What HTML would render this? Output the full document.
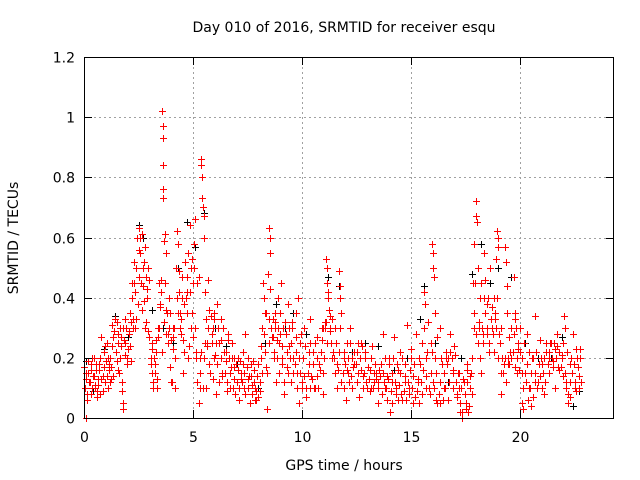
<!DOCTYPE html>
<html><head><meta charset="utf-8"><style>
html,body{margin:0;padding:0;background:#fff;}
svg{display:block;font-family:"DejaVu Sans","Liberation Sans",sans-serif;}
</style></head><body>
<svg id="chart" width="640" height="480">
<text x="344" y="32" text-anchor="middle" font-size="14">Day 010 of 2016, SRMTID for receiver esqu</text>
<text x="344" y="470" text-anchor="middle" font-size="14">GPS time / hours</text>
<text transform="translate(18,238) rotate(-90)" text-anchor="middle" font-size="14">SRMTID / TECUs</text>
<g id="grid"></g><g id="black"></g><g id="red"></g><g id="axes"></g>
</svg>
<script>
const xTicks=[0,5,10,15,20];
const yTicks=[0,0.2,0.4,0.6,0.8,1,1.2];
const yTickLabels=["0","0.2","0.4","0.6","0.8","1","1.2"];
const redPts=[[0.02,0.17],[0.05,0.1],[0.08,0.0],[0.1,0.13],[0.15,0.08],[0.2,0.15],[0.25,0.12],[0.3,0.18],[0.35,0.1],[0.4,0.14],[0.45,0.2],[0.5,0.11],[0.55,0.16],[0.6,0.09],[0.65,0.13],[0.7,0.18],[0.75,0.08],[0.8,0.27],[0.85,0.14],[0.9,0.22],[0.95,0.12],[1.0,0.19],[1.05,0.25],[1.1,0.1],[1.15,0.16],[1.2,0.2],[1.25,0.13],[1.3,0.31],[1.35,0.27],[1.4,0.33],[1.45,0.22],[1.5,0.19],[1.55,0.28],[1.6,0.15],[1.65,0.3],[1.7,0.24],[1.75,0.09],[1.78,0.05],[1.8,0.03],[1.85,0.26],[1.9,0.33],[1.95,0.2],[2.0,0.23],[2.05,0.29],[2.1,0.35],[2.15,0.19],[2.2,0.45],[2.25,0.3],[2.3,0.52],[2.35,0.42],[2.4,0.33],[2.45,0.6],[2.5,0.63],[2.55,0.55],[2.6,0.45],[2.65,0.61],[2.7,0.5],[2.75,0.39],[2.8,0.3],[2.85,0.47],[2.9,0.43],[2.95,0.5],[3.0,0.27],[3.05,0.18],[3.1,0.23],[3.15,0.1],[3.2,0.2],[3.25,0.15],[3.3,0.26],[3.35,0.13],[3.4,0.3],[3.45,0.45],[3.5,0.37],[3.55,0.46],[3.58,1.02],[3.6,0.97],[3.62,0.93],[3.64,0.84],[3.6,0.76],[3.63,0.73],[3.65,0.59],[3.7,0.61],[3.75,0.55],[3.8,0.35],[3.85,0.28],[3.9,0.4],[3.95,0.17],[4.0,0.26],[4.05,0.12],[4.1,0.3],[4.15,0.2],[4.2,0.5],[4.25,0.62],[4.3,0.58],[4.35,0.42],[4.4,0.35],[4.45,0.28],[4.5,0.47],[4.55,0.15],[4.6,0.38],[4.65,0.52],[4.7,0.42],[4.75,0.55],[4.8,0.24],[4.85,0.64],[4.9,0.3],[4.95,0.53],[5.0,0.45],[5.05,0.58],[5.1,0.66],[5.15,0.2],[5.2,0.12],[5.25,0.05],[5.3,0.2],[5.35,0.86],[5.38,0.84],[5.4,0.8],[5.42,0.73],[5.45,0.7],[5.48,0.67],[5.5,0.6],[5.55,0.42],[5.6,0.1],[5.65,0.25],[5.7,0.46],[5.75,0.18],[5.8,0.34],[5.85,0.28],[5.9,0.13],[5.95,0.35],[6.0,0.21],[6.05,0.08],[6.1,0.38],[6.15,0.3],[6.2,0.25],[6.3,0.33],[6.35,0.14],[6.4,0.22],[6.5,0.19],[6.55,0.09],[6.6,0.28],[6.7,0.15],[6.8,0.2],[6.85,0.1],[6.9,0.17],[7.0,0.12],[7.05,0.2],[7.1,0.06],[7.2,0.15],[7.3,0.22],[7.35,0.1],[7.4,0.28],[7.5,0.13],[7.6,0.05],[7.65,0.18],[7.7,0.11],[7.8,0.16],[7.85,0.06],[7.9,0.09],[8.0,0.07],[8.05,0.12],[8.1,0.2],[8.15,0.3],[8.2,0.45],[8.25,0.4],[8.3,0.35],[8.35,0.17],[8.4,0.03],[8.45,0.48],[8.5,0.63],[8.52,0.6],[8.55,0.55],[8.6,0.27],[8.65,0.33],[8.7,0.22],[8.75,0.3],[8.8,0.12],[8.85,0.26],[8.9,0.4],[8.95,0.15],[9.0,0.28],[9.05,0.45],[9.1,0.2],[9.15,0.08],[9.2,0.32],[9.3,0.17],[9.35,0.38],[9.4,0.24],[9.5,0.12],[9.55,0.3],[9.6,0.2],[9.7,0.35],[9.75,0.15],[9.8,0.4],[9.85,0.05],[9.9,0.25],[10.0,0.12],[10.05,0.2],[10.1,0.3],[10.2,0.07],[10.3,0.18],[10.35,0.33],[10.4,0.14],[10.5,0.22],[10.6,0.1],[10.7,0.27],[10.8,0.16],[10.9,0.3],[10.95,0.08],[11.0,0.2],[11.05,0.32],[11.1,0.53],[11.12,0.5],[11.15,0.45],[11.2,0.42],[11.25,0.36],[11.3,0.29],[11.35,0.33],[11.4,0.22],[11.5,0.3],[11.6,0.18],[11.7,0.49],[11.72,0.44],[11.75,0.4],[11.8,0.12],[11.9,0.2],[12.0,0.06],[12.05,0.25],[12.1,0.15],[12.2,0.3],[12.3,0.1],[12.4,0.18],[12.5,0.22],[12.6,0.07],[12.7,0.25],[12.8,0.14],[12.9,0.2],[13.0,0.17],[13.1,0.09],[13.2,0.24],[13.3,0.12],[13.4,0.15],[13.5,0.05],[13.6,0.18],[13.7,0.28],[13.8,0.1],[13.9,0.14],[14.0,0.2],[14.05,0.02],[14.1,0.12],[14.2,0.27],[14.3,0.08],[14.4,0.16],[14.5,0.22],[14.6,0.06],[14.7,0.14],[14.8,0.31],[14.9,0.1],[15.0,0.23],[15.1,0.05],[15.2,0.28],[15.3,0.12],[15.4,0.18],[15.5,0.08],[15.6,0.42],[15.65,0.38],[15.7,0.2],[15.8,0.1],[15.9,0.25],[15.95,0.58],[15.98,0.55],[16.0,0.5],[16.05,0.47],[16.1,0.35],[16.15,0.15],[16.2,0.05],[16.3,0.3],[16.4,0.18],[16.5,0.1],[16.6,0.22],[16.7,0.06],[16.8,0.28],[16.9,0.15],[17.0,0.21],[17.1,0.08],[17.2,0.15],[17.25,0.02],[17.3,0.1],[17.35,0.0],[17.4,0.12],[17.5,0.05],[17.55,0.18],[17.6,0.02],[17.7,0.14],[17.8,0.2],[17.85,0.45],[17.9,0.58],[17.95,0.72],[17.97,0.67],[18.0,0.65],[18.05,0.5],[18.1,0.32],[18.15,0.4],[18.2,0.15],[18.3,0.28],[18.35,0.55],[18.4,0.46],[18.5,0.38],[18.55,0.22],[18.6,0.5],[18.7,0.3],[18.8,0.4],[18.85,0.33],[18.9,0.53],[18.95,0.62],[18.98,0.6],[19.0,0.57],[19.05,0.28],[19.1,0.08],[19.2,0.15],[19.3,0.57],[19.35,0.52],[19.4,0.44],[19.45,0.18],[19.5,0.27],[19.6,0.2],[19.7,0.47],[19.75,0.35],[19.8,0.3],[19.85,0.15],[19.9,0.25],[20.0,0.22],[20.1,0.05],[20.15,0.03],[20.2,0.15],[20.3,0.28],[20.4,0.1],[20.5,0.04],[20.6,0.2],[20.7,0.34],[20.8,0.12],[20.9,0.26],[21.0,0.18],[21.1,0.08],[21.2,0.22],[21.3,0.15],[21.4,0.25],[21.5,0.19],[21.6,0.1],[21.7,0.28],[21.8,0.16],[21.9,0.21],[22.0,0.34],[22.05,0.3],[22.1,0.12],[22.2,0.05],[22.3,0.18],[22.4,0.28],[22.5,0.1],[22.6,0.2],[22.7,0.14],[22.75,0.23]];
// dense band: each row = [time, value, value, ...]
const redBand=[[0.1,0.1,0.15,0.06,0.19],[0.3,0.12,0.08,0.16,0.2],[0.5,0.14,0.1,0.18,0.07],[0.7,0.11,0.16,0.2,0.13],[0.9,0.09,0.17,0.24,0.12],[1.1,0.14,0.2,0.18,0.12],[1.3,0.17,0.24,0.14,0.29],[1.5,0.22,0.32,0.16,0.25],[1.7,0.2,0.27,0.12,0.3],[1.9,0.21,0.25,0.3,0.18],[2.1,0.28,0.24,0.32,0.4],[2.3,0.33,0.45,0.3,0.5],[2.5,0.38,0.47,0.56,0.6],[2.7,0.36,0.44,0.52,0.57],[2.9,0.32,0.4,0.29,0.46],[3.1,0.2,0.15,0.25,0.12],[3.3,0.18,0.22,0.1,0.27],[3.5,0.3,0.38,0.42,0.22],[3.7,0.32,0.45,0.36,0.28],[3.9,0.25,0.3,0.35,0.12],[4.1,0.23,0.27,0.3,0.1],[4.3,0.4,0.35,0.49,0.3],[4.5,0.33,0.4,0.26,0.22],[4.7,0.4,0.47,0.35,0.2],[4.9,0.42,0.5,0.35,0.27],[5.1,0.5,0.3,0.22,0.45],[5.3,0.47,0.1,0.15,0.22],[5.5,0.1,0.2,0.25,0.33],[5.7,0.24,0.3,0.36,0.15],[5.9,0.25,0.3,0.2,0.33],[6.1,0.25,0.18,0.3,0.12],[6.3,0.2,0.26,0.15,0.3],[6.5,0.15,0.22,0.12,0.26],[6.7,0.2,0.1,0.17,0.25],[6.9,0.13,0.2,0.08,0.18],[7.1,0.16,0.1,0.19,0.13],[7.3,0.12,0.18,0.15,0.08],[7.5,0.17,0.1,0.2,0.14],[7.7,0.14,0.08,0.19,0.12],[7.9,0.1,0.06,0.14,0.18],[8.1,0.09,0.24,0.15,0.3],[8.3,0.28,0.22,0.35,0.15],[8.5,0.33,0.25,0.43,0.3],[8.7,0.27,0.2,0.35,0.32],[8.9,0.2,0.3,0.25,0.35],[9.1,0.24,0.18,0.3,0.12],[9.3,0.28,0.22,0.15,0.3],[9.5,0.2,0.25,0.32,0.15],[9.7,0.18,0.22,0.27,0.1],[9.9,0.2,0.15,0.28,0.1],[10.1,0.2,0.14,0.24,0.1],[10.3,0.15,0.22,0.1,0.25],[10.5,0.13,0.18,0.1,0.25],[10.7,0.14,0.2,0.1,0.18],[10.9,0.22,0.26,0.15,0.3],[11.1,0.3,0.32,0.25,0.4],[11.3,0.34,0.3,0.25,0.2],[11.5,0.2,0.15,0.25,0.1],[11.7,0.16,0.22,0.3,0.35],[11.9,0.15,0.22,0.1,0.18],[12.1,0.16,0.2,0.12,0.25],[12.3,0.14,0.2,0.17,0.22],[12.5,0.18,0.12,0.25,0.15],[12.7,0.2,0.16,0.24,0.1],[12.9,0.15,0.22,0.12,0.1],[13.1,0.13,0.16,0.2,0.1],[13.3,0.1,0.15,0.18,0.13],[13.5,0.12,0.1,0.16,0.14],[13.7,0.08,0.15,0.12,0.2],[13.9,0.1,0.06,0.13,0.18],[14.1,0.09,0.15,0.05,0.2],[14.3,0.12,0.1,0.18,0.06],[14.5,0.11,0.15,0.08,0.2],[14.7,0.09,0.18,0.12,0.06],[14.9,0.12,0.08,0.16,0.2],[15.1,0.1,0.14,0.18,0.07],[15.3,0.09,0.13,0.05,0.2],[15.5,0.12,0.25,0.16,0.3],[15.7,0.14,0.1,0.22,0.32],[15.9,0.08,0.15,0.22,0.12],[16.1,0.1,0.2,0.06,0.27],[16.3,0.08,0.12,0.05,0.2],[16.5,0.06,0.15,0.1,0.2],[16.7,0.18,0.2,0.12,0.22],[16.9,0.2,0.16,0.1,0.24],[17.1,0.12,0.07,0.15,0.1],[17.3,0.05,0.1,0.02,0.13],[17.5,0.08,0.03,0.12,0.16],[17.7,0.04,0.1,0.15,0.08],[17.9,0.35,0.3,0.45,0.28],[18.1,0.25,0.3,0.2,0.45],[18.3,0.3,0.25,0.4,0.35],[18.5,0.3,0.28,0.4,0.25],[18.7,0.33,0.37,0.28,0.22],[18.9,0.35,0.3,0.4,0.2],[19.1,0.25,0.3,0.15,0.2],[19.3,0.18,0.2,0.12,0.35],[19.5,0.2,0.18,0.22,0.3],[19.7,0.22,0.28,0.33,0.17],[19.9,0.2,0.23,0.16,0.3],[20.1,0.15,0.2,0.1,0.25],[20.3,0.12,0.18,0.06,0.22],[20.5,0.1,0.15,0.2,0.07],[20.7,0.15,0.12,0.22,0.1],[20.9,0.18,0.14,0.2,0.1],[21.1,0.15,0.2,0.12,0.25],[21.3,0.18,0.22,0.2,0.25],[21.5,0.2,0.17,0.25,0.23],[21.7,0.2,0.24,0.17,0.22],[21.9,0.17,0.2,0.25,0.14],[22.1,0.15,0.1,0.22,0.08],[22.3,0.12,0.07,0.2,0.15],[22.5,0.18,0.12,0.23,0.09],[22.7,0.17,0.1,0.2,0.12]];
const blackPts=[[0.1,0.19],[0.4,0.09],[0.9,0.23],[1.4,0.34],[2.0,0.27],[2.5,0.64],[2.7,0.6],[3.1,0.36],[3.6,0.3],[4.1,0.25],[4.3,0.5],[4.7,0.65],[5.1,0.57],[5.5,0.68],[6.0,0.3],[6.5,0.24],[7.0,0.18],[7.5,0.2],[8.0,0.1],[8.3,0.25],[8.8,0.38],[9.2,0.3],[9.6,0.35],[10.2,0.28],[10.7,0.2],[11.2,0.47],[11.7,0.44],[12.3,0.22],[12.9,0.25],[13.5,0.24],[14.2,0.16],[14.8,0.2],[15.4,0.33],[15.6,0.44],[16.1,0.25],[16.7,0.12],[17.3,0.2],[17.8,0.48],[18.2,0.58],[18.6,0.45],[19.0,0.5],[19.6,0.47],[20.2,0.25],[20.8,0.2],[21.4,0.2],[21.9,0.27],[22.4,0.04],[22.7,0.09]];

const NS='http://www.w3.org/2000/svg';
const L=84,R=614,T=57,B=418,XMAX=24.3,YMAX=1.2;
function xs(v){return L+v/XMAX*(R-L);}
function ys(v){return B-v/YMAX*(B-T);}
function mk(tag,attrs,parent){const e=document.createElementNS(NS,tag);for(const k in attrs)e.setAttribute(k,attrs[k]);parent.appendChild(e);return e;}
const grid=document.getElementById('grid'),axes=document.getElementById('axes');
yTicks.forEach((t,i)=>{
  const y=Math.round(ys(t))+0.5;
  if(t>0&&t<YMAX){const g=mk('line',{x1:L,x2:R,y1:y,y2:y,stroke:'#a0a0a0','stroke-dasharray':'2,3'},grid);
  
  }
  mk('line',{x1:L,x2:L+8,y1:y,y2:y,stroke:'#000'},axes);
  mk('line',{x1:R-8,x2:R,y1:y,y2:y,stroke:'#000'},axes);
  const tx=mk('text',{x:L-9,y:y+5,'text-anchor':'end','font-size':14},axes);
  tx.textContent=yTickLabels[i];
  
  
});
xTicks.forEach(t=>{
  const x=Math.round(xs(t))+0.5;
  if(t>0){const g=mk('line',{x1:x,x2:x,y1:T,y2:B,stroke:'#a0a0a0','stroke-dasharray':'2,3'},grid);
  
  }
  mk('line',{x1:x,x2:x,y1:B,y2:B-8,stroke:'#000'},axes);
  mk('line',{x1:x,x2:x,y1:T,y2:T+8,stroke:'#000'},axes);
  const tx=mk('text',{x:x,y:B+24,'text-anchor':'middle','font-size':14},axes);
  tx.textContent=String(t);
  
  
});
const frame=mk('rect',{x:L+0.5,y:T+0.5,width:R-L-1,height:B-T,fill:'none',stroke:'#000'},axes);


function plus(pts,color,gid,name){
  const g=document.getElementById(gid);
  pts.forEach(p=>{
    const x=Math.round(xs(p[0]))+0.5,y=Math.round(ys(p[1]))+0.5;
    const e=mk('path',{d:`M${x-3.5},${y}H${x+3.5}M${x},${y-3.5}V${y+3.5}`,stroke:color,'stroke-width':1,fill:'none'},g);
    
    
  });
}
const bandPts=[];
redBand.forEach(row=>{for(let i=1;i<row.length;i++)bandPts.push([row[0]+(i-2)*0.04,row[i]]);});
plus(blackPts,'#000','black','black-point');
plus(redPts,'#ff0000','red','red-point');
plus(bandPts,'#ff0000','red','red-point');
</script>
</body></html>
